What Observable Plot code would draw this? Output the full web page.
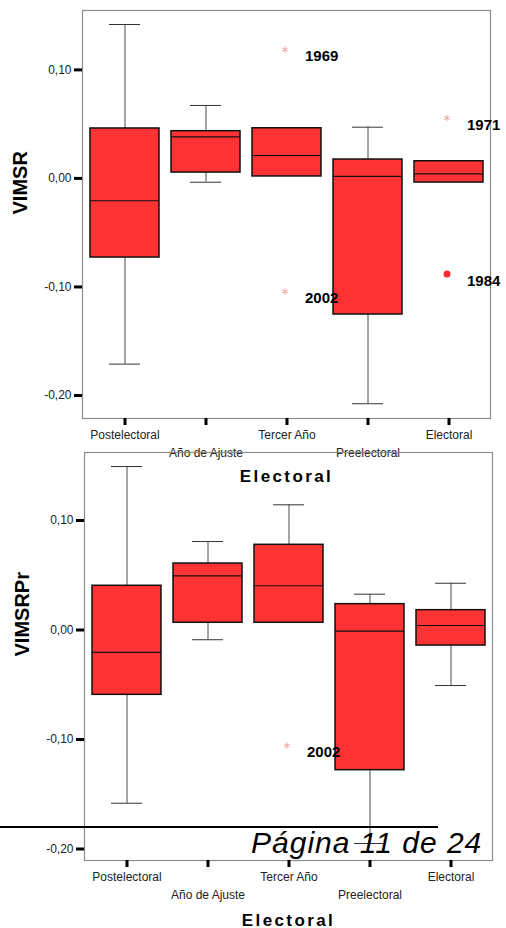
<!DOCTYPE html>
<html>
<head>
<meta charset="utf-8">
<script src="https://cdn.jsdelivr.net/npm/d3@7"></script>
<script src="https://cdn.jsdelivr.net/npm/@observablehq/plot@0.6"></script>
<style>
  html, body { margin: 0; padding: 0; background: #fff; }
  #page { position: relative; width: 506px; height: 928px; overflow: hidden; background: #fff; font-family: "Liberation Sans", Arial, sans-serif; }
  #page svg { position: absolute; left: 0; }
  #rule { position: absolute; left: 0; top: 826px; width: 438px; height: 2px; background: #000; }
  #pagenum { position: absolute; left: 251px; top: 828px; font-size: 30px; line-height: 30px; letter-spacing: 1px; font-style: italic; color: #000; white-space: nowrap; }
</style>
</head>
<body>
<div id="page">
  <div id="rule"></div>
  <div id="pagenum">Página 11 de 24</div>
</div>
<script>
// ---- data ----
const categories = ["Postelectoral", "Año de Ajuste", "Tercer Año", "Preelectoral", "Electoral"];
const yTicks = [-0.2, -0.1, 0, 0.1];
const xTitle = "Electoral";

// Chart 1: VIMSR
const vimsrLow  = [-0.1711, -0.0035, 0.0018, -0.2076, -0.0038];
const vimsrQ1   = [-0.0729,  0.0054, 0.0018, -0.1254, -0.0038];
const vimsrMed  = [-0.0206,  0.0383, 0.0211,  0.0018,  0.0042];
const vimsrQ3   = [ 0.0460,  0.0435, 0.0462,  0.0174,  0.0158];
const vimsrHigh = [ 0.1418,  0.0672, 0.0462,  0.0472,  0.0158];
const vimsrOutCat  = ["Tercer Año", "Tercer Año", "Electoral", "Electoral"];
const vimsrOutVal  = [0.1187, -0.1042, 0.0556, -0.0881];
const vimsrOutYear = ["1969", "2002", "1971", "1984"];
const vimsrOutKind = ["extreme", "extreme", "extreme", "outlier"];

// Chart 2: VIMSRPr
const vimsrprLow  = [-0.1582, -0.0089, 0.0066, -0.1950, -0.0507];
const vimsrprQ1   = [-0.0592,  0.0066, 0.0066, -0.1280, -0.0142];
const vimsrprMed  = [-0.0205,  0.0495, 0.0404, -0.0011,  0.0041];
const vimsrprQ3   = [ 0.0404,  0.0607, 0.0778,  0.0236,  0.0181];
const vimsrprHigh = [ 0.1493,  0.0808, 0.1143,  0.0327,  0.0427];
const vimsrprOutCat  = ["Tercer Año"];
const vimsrprOutVal  = [-0.1055];
const vimsrprOutYear = ["2002"];
const vimsrprOutKind = ["extreme"];

// ---- helpers ----
const fmt = d => d3.format(".2f")(d).replace(".", ",").replace("\u2212", "-");
const BOX = "#ff3333";

function boxTable(lo, q1, med, q3, hi) {
  return categories.map((c, i) => ({cat: c, lo: lo[i], q1: q1[i], med: med[i], q3: q3[i], hi: hi[i], row: i % 2}));
}
function outTable(cat, val, year, kind) {
  return cat.map((c, i) => ({cat: c, v: val[i], year: year[i], kind: kind[i]}));
}

function chart({rows, outs, yLabel, domain, top, height, ml, mr, mb, ylabDx, titleDy}) {
  const svg = Plot.plot({
    width: 506,
    height,
    marginTop: 10,
    marginLeft: ml,
    marginRight: mr,
    marginBottom: mb,
    style: {background: "transparent", overflow: "visible", fontFamily: "'Liberation Sans', Arial, sans-serif", fontSize: "12px"},
    x: {domain: categories, paddingInner: 0.15, paddingOuter: 0.075, label: null},
    y: {domain, label: null},
    marks: [
      Plot.frame({stroke: "#8c8c8c", strokeWidth: 1.2}),
      // whiskers
      Plot.ruleX(rows.filter(d => d.hi > d.q3), {x: "cat", y1: "q3", y2: "hi", stroke: "#4a4a4a", strokeWidth: 1}),
      Plot.ruleX(rows.filter(d => d.lo < d.q1), {x: "cat", y1: "lo", y2: "q1", stroke: "#4a4a4a", strokeWidth: 1}),
      Plot.tickY(rows.filter(d => d.hi > d.q3), {x: "cat", y: "hi", stroke: "#333", strokeWidth: 1, insetLeft: 19, insetRight: 19}),
      Plot.tickY(rows.filter(d => d.lo < d.q1), {x: "cat", y: "lo", stroke: "#333", strokeWidth: 1, insetLeft: 19, insetRight: 19}),
      // boxes
      Plot.barY(rows, {x: "cat", y1: "q1", y2: "q3", fill: BOX, stroke: "#111", strokeWidth: 1.5}),
      Plot.tickY(rows, {x: "cat", y: "med", stroke: "#111", strokeWidth: 1.2}),
      // outliers
      Plot.dot(outs.filter(d => d.kind === "extreme"), {x: "cat", y: "v", symbol: "asterisk", r: 3, stroke: "#f3a0a0", strokeWidth: 1, dx: -2}),
      Plot.dot(outs.filter(d => d.kind === "outlier"), {x: "cat", y: "v", r: 3.5, fill: "#ff2a2a", stroke: "none", dx: -2}),
      Plot.text(outs, {x: "cat", y: "v", text: "year", dx: 18, dy: 7, textAnchor: "start", fontWeight: "bold", fontSize: 15, fill: "#000"}),
      // axes
      Plot.axisY({ticks: yTicks, tickFormat: fmt, tickSize: 8, tickPadding: 3, strokeWidth: 3, stroke: "#000", fill: "#222", fontSize: 12, label: null}),
      Plot.axisX({tickSize: 7, strokeWidth: 3, stroke: "#000", tickFormat: () => "", label: null}),
      Plot.text(rows.filter(d => d.row === 0), {x: "cat", text: "cat", frameAnchor: "bottom", dy: 20, fontSize: 12, fill: "#222"}),
      Plot.text(rows.filter(d => d.row === 1), {x: "cat", text: "cat", frameAnchor: "bottom", dy: 38, fontSize: 12, fill: "#222"}),
      Plot.text([xTitle], {frameAnchor: "bottom", dy: titleDy, fontWeight: "bold", fontSize: 17, fill: "#000"}),
      Plot.text([yLabel], {frameAnchor: "left", rotate: -90, dx: ylabDx, fontWeight: "bold", fontSize: 20, fill: "#000"})
    ]
  });
  svg.style.top = top + "px";
  // widen the x-axis title spacing as in the scanned original
  svg.querySelectorAll("text").forEach(t => {
    if (t.textContent === xTitle && t.closest("g") && t.closest("g").getAttribute("font-weight") === "bold") {
      t.setAttribute("letter-spacing", "2.4px");
    }
  });
  return svg;
}

const page = document.getElementById("page");
const c1 = chart({
  rows: boxTable(vimsrLow, vimsrQ1, vimsrMed, vimsrQ3, vimsrHigh),
  outs: outTable(vimsrOutCat, vimsrOutVal, vimsrOutYear, vimsrOutKind),
  yLabel: "VIMSR",
  domain: [-0.2212, 0.1547],
  top: 0, height: 500, ml: 82, mr: 16, mb: 82, ylabDx: -61.5, titleDy: 63
});
const c2 = chart({
  rows: boxTable(vimsrprLow, vimsrprQ1, vimsrprMed, vimsrprQ3, vimsrprHigh),
  outs: outTable(vimsrprOutCat, vimsrprOutVal, vimsrprOutYear, vimsrprOutKind),
  yLabel: "VIMSRPr",
  domain: [-0.2105, 0.1621],
  top: 442, height: 486, ml: 84, mr: 14, mb: 68, ylabDx: -62, titleDy: 65
});
page.insertBefore(c2, page.firstChild);
page.insertBefore(c1, page.firstChild);
</script>
</body>
</html>
